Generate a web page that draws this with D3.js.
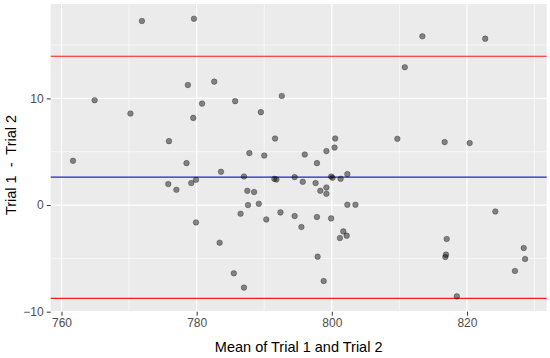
<!DOCTYPE html>
<html>
<head>
<meta charset="utf-8">
<script src="https://cdn.jsdelivr.net/npm/d3@7"></script>
<style>
  body { margin: 0; background: #fff; }
  text { font-family: "Liberation Sans", Arial, sans-serif; }
  .tick text { fill: #4d4d4d; font-size: 12px; }
</style>
</head>
<body>
<div id="chart"></div>
<script>
// mean of the two trials
var meanVals = [761.7, 764.9, 770.2, 771.9, 775.9, 775.8, 777.0, 778.5, 778.7, 779.2,
  779.5, 779.6, 779.9, 779.9, 780.8, 782.6, 783.6, 783.4, 785.5, 785.7,
  786.5, 787.0, 787.0, 787.5, 787.6, 787.8, 788.5, 789.2, 789.5, 790.0,
  790.3, 791.6, 791.5, 791.8, 792.4, 792.6, 794.5, 794.5, 795.5, 795.7,
  796.0, 797.6, 797.8, 797.8, 797.9, 798.3, 798.8, 799.2, 799.2, 799.2,
  799.9, 800.1, 799.9, 800.4, 800.5, 801.3, 801.2, 801.7, 802.2, 802.3,
  802.3, 803.5, 809.7, 810.8, 813.4, 816.7, 816.8, 816.9, 817.0, 818.5,
  820.4, 822.7, 824.2, 827.1, 828.4, 828.6];
// difference trial 1 - trial 2
var diffVals = [4.15, 9.83, 8.58, 17.26, 5.99, 1.97, 1.43, 3.93, 11.26, 2.06,
  8.17, 17.47, 2.37, -1.63, 9.51, 11.57, 3.12, -3.53, -6.40, 9.74,
  -0.81, 2.68, -7.74, 1.34, 0.0, 4.87, 1.22, 0.12, 8.71, 4.64,
  -1.35, 6.24, 2.45, 2.40, -0.69, 10.23, -1.03, 2.62, -2.06, 2.18,
  4.74, 2.06, 3.93, -1.12, -4.84, 1.34, -7.12, 5.06, 1.65, 1.06,
  2.68, 2.55, -1.25, 5.39, 6.24, 2.46, -3.09, -2.47, -2.87, 2.90,
  0.03, 0.03, 6.21, 12.92, 15.82, 5.90, -4.87, -4.65, -3.18, -8.56,
  5.81, 15.60, -0.60, -6.18, -4.03, -5.06];

var meanDiff = 2.62;
var limits = [13.95, -8.75];

var xTicks = [760, 780, 800, 820];
var xMinor = [770, 790, 810, 830];
var yTicks = [-10, 0, 10];
var yMinor = [-5, 5, 15];

var W = 550, H = 358;
var pArea = [50.7, 4, 546.7, 311.7];

var svg = d3.select("#chart")
  .append("svg")
  .attr("width", W)
  .attr("height", H);

var x = d3.scaleLinear()
  .domain([758.4, 831.8])
  .range([pArea[0], pArea[2]]);
var y = d3.scaleLinear()
  .domain([-10, 18.85])
  .range([pArea[3], pArea[1]]);

svg.append("rect")
  .attr("x", pArea[0])
  .attr("y", pArea[1])
  .attr("width", pArea[2] - pArea[0])
  .attr("height", pArea[3] - pArea[1])
  .attr("fill", "#ebebeb");

var grid = svg.append("g");
grid.selectAll(".xminor").data(xMinor).enter().append("line")
  .attr("x1", d => x(d)).attr("x2", d => x(d))
  .attr("y1", pArea[1]).attr("y2", pArea[3])
  .attr("stroke", "#fff").attr("stroke-width", 0.6);
grid.selectAll(".yminor").data(yMinor).enter().append("line")
  .attr("y1", d => y(d)).attr("y2", d => y(d))
  .attr("x1", pArea[0]).attr("x2", pArea[2])
  .attr("stroke", "#fff").attr("stroke-width", 0.6);
grid.selectAll(".xmajor").data(xTicks).enter().append("line")
  .attr("x1", d => x(d)).attr("x2", d => x(d))
  .attr("y1", pArea[1]).attr("y2", pArea[3])
  .attr("stroke", "#fff").attr("stroke-width", 1.2);
grid.selectAll(".ymajor").data(yTicks).enter().append("line")
  .attr("y1", d => y(d)).attr("y2", d => y(d))
  .attr("x1", pArea[0]).attr("x2", pArea[2])
  .attr("stroke", "#fff").attr("stroke-width", 1.2);

// reference lines
svg.append("line")
  .attr("x1", pArea[0]).attr("x2", pArea[2])
  .attr("y1", y(meanDiff)).attr("y2", y(meanDiff))
  .attr("stroke", "#2222cc").attr("stroke-width", 1.2);
svg.selectAll(".lim").data(limits).enter().append("line")
  .attr("x1", pArea[0]).attr("x2", pArea[2])
  .attr("y1", d => y(d)).attr("y2", d => y(d))
  .attr("stroke", "#ff1a1a").attr("stroke-width", 1.2);

var pts = meanVals.map((m, i) => [m, diffVals[i]]);
svg.append("g").selectAll("circle").data(pts).enter().append("circle")
  .attr("cx", d => x(d[0]))
  .attr("cy", d => y(d[1]))
  .attr("r", 2.8)
  .attr("fill", "#000")
  .attr("fill-opacity", 0.45)
  .attr("stroke", "#000")
  .attr("stroke-opacity", 0.35)
  .attr("stroke-width", 0.8);

var g = svg.append("g");
g.append("g")
  .attr("class", "axis axis--x")
  .attr("transform", `translate(0,${pArea[3]})`)
  .call(d3.axisBottom(x).tickValues(xTicks).tickSize(4).tickPadding(3))
  .call(s => s.select(".domain").remove())
  .call(s => s.selectAll(".tick line").attr("stroke", "#333"));

g.append("g")
  .attr("class", "axis axis--y")
  .attr("transform", `translate(${pArea[0]},0)`)
  .call(d3.axisLeft(y).tickValues(yTicks).tickSize(4).tickPadding(3))
  .call(s => s.select(".domain").remove())
  .call(s => s.selectAll(".tick line").attr("stroke", "#333"));

svg.append("text")
  .attr("x", (pArea[0] + pArea[2]) / 2)
  .attr("y", 352)
  .attr("text-anchor", "middle")
  .attr("font-size", "14.5px")
  .attr("fill", "#000")
  .text("Mean of Trial 1 and Trial 2");

svg.append("text")
  .attr("transform", "translate(16,165) rotate(-90)")
  .attr("text-anchor", "middle")
  .attr("font-size", "14.5px")
  .attr("fill", "#000")
  .style("white-space", "pre")
  .text("Trial 1  -  Trial 2");
</script>
</body>
</html>
